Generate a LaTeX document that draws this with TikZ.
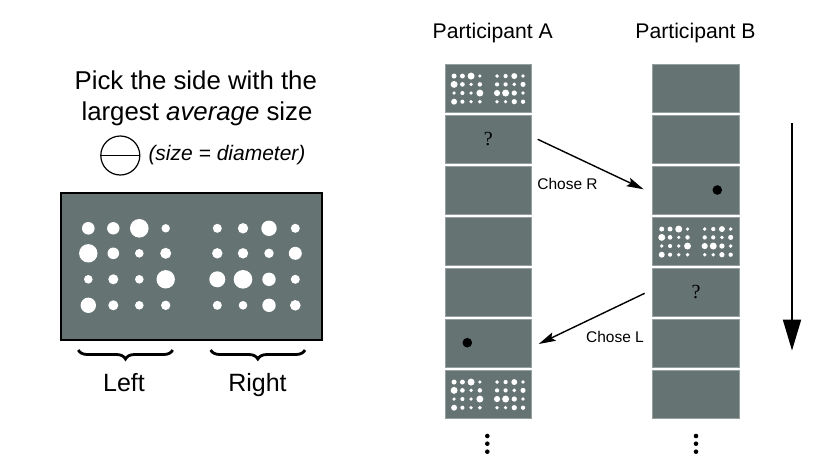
\documentclass[tikz,border=0pt]{standalone}
\usepackage{fontspec}
\setmainfont{Liberation Sans}
\newfontfamily\qfont{Liberation Serif}
\usetikzlibrary{arrows.meta,decorations.pathreplacing}
\definecolor{panelgray}{RGB}{101,115,115}
\definecolor{paneledge}{RGB}{150,160,160}
\newcommand\dotgrid[4]{%
  \foreach \cx/\cy/\cr in {
    27.3/35.3/6.3, 52.3/35.3/6.2, 78.3/35.3/9.3, 104.7/35.3/4.2, 156.3/35.3/4.5, 182/35.3/5.2, 208/35.3/7.7, 234.3/35.3/4.5,
    27.3/60.3/9.2, 52.3/60.3/5.8, 78.3/60.3/4.3, 104.7/60.3/5.5, 156.3/60.3/5.2, 182/60.3/5.2, 208/60.3/4.7, 234.3/60.3/6.5,
    27.3/86.3/4.3, 52.3/86.3/5.0, 78.3/86.3/4.3, 104.7/86.3/9.2, 156.3/86.3/8.0, 182/86.3/9.3, 208/86.3/6.7, 234.3/86.3/4.5,
    27.3/112.3/7.7, 52.3/112.3/5.0, 78.3/112.3/4.3, 104.7/112.3/4.7, 156.3/112.3/4.5, 182/112.3/4.3, 208/112.3/6.7, 234.3/112.3/5.3}
  {\fill[white] ({#1+#3*\cx},{#2+#3*\cy}) circle[radius={#3*\cr+#4}];}}
\begin{document}
\begin{tikzpicture}[x=1pt,y=-1pt,
  panel/.style={draw=paneledge, line width=0.8pt, fill=panelgray, minimum width=86.7pt, minimum height=48pt, inner sep=0pt, outer sep=0pt},
  bigpanel/.style={draw=black, line width=1.2pt, fill=panelgray, minimum width=261pt, minimum height=147pt, inner sep=0pt, outer sep=0pt},
  titletext/.style={font=\fontsize{25.8}{30}\selectfont, anchor=base, inner sep=0pt},
  headtext/.style={font=\fontsize{21.2}{25}\selectfont, anchor=base, inner sep=0pt},
  sidetext/.style={font=\fontsize{25}{29}\selectfont, anchor=base, inner sep=0pt},
  chosetext/.style={font=\fontsize{15.5}{18}\selectfont, inner sep=0pt},
  qmark/.style={font=\qfont\fontsize{20}{22}\selectfont, inner sep=0pt},
  diagarrow/.style={line width=1.4pt, -{Stealth[length=17pt,width=9pt,inset=3pt]}},
  bracestyle/.style={line width=2.8pt, decorate, decoration={brace, mirror, amplitude=9pt}}
]
\useasboundingbox (0,0) rectangle (830,467);

% left: instructions
\node[titletext] (title1) at (195.8,89.5) {Pick the side with the};
\node[titletext] (title2) at (197,120.5) {largest \textit{average} size};
\draw[line width=1.2pt] (120.3,155.5) circle[radius=19.5];
\draw[line width=1.2pt] (100.8,155.5) -- (139.8,155.5);
\node[anchor=west, inner sep=0pt, font=\itshape\fontsize{21}{24}\selectfont] (sizelabel) at (148.3,155.5) {(size = diameter)};

% big panel
\node[bigpanel] (big) at (191.5,266.5) {};
\begin{scope}[shift={(big.north west)}]
  \dotgrid{0}{0}{1}{0}
\end{scope}

% braces
\coordinate (lb1) at (78.3,350);
\coordinate (lb2) at (172.7,350);
\coordinate (rb1) at (210.7,350);
\coordinate (rb2) at (305,350);
\draw[bracestyle] (lb1) -- (lb2);
\draw[bracestyle] (rb1) -- (rb2);
\node[sidetext] (leftlabel) at (124,391.7) {Left};
\node[sidetext] (rightlabel) at (257.5,391.7) {Right};

% participants
\node[headtext] (headA) at (492.8,38.3) {Participant A};
\node[headtext] (headB) at (695.5,38.3) {Participant B};

\foreach \i/\y in {1/88.3, 2/139.3, 3/190.3, 4/241.3, 5/292.3, 6/343.3, 7/394.3} {
  \node[panel] (A\i) at (488.35,\y) {};
  \node[panel] (B\i) at (696,\y) {};
}
\begin{scope}[shift={(A1.north west)}] \dotgrid{0}{0}{0.333}{0.4} \end{scope}
\begin{scope}[shift={(A7.north west)}] \dotgrid{0}{0}{0.333}{0.4} \end{scope}
\begin{scope}[shift={(B4.north west)}] \dotgrid{0}{0}{0.333}{0.4} \end{scope}

\node[qmark] (qA) at (A2) {?};
\node[qmark] (qB) at (B5) {?};
\fill (717.3,190) circle[radius=4.8];
\fill (467.3,342.7) circle[radius=4.8];

% arrows
\draw[diagarrow] ([xshift=6pt]A2.east) -- ([xshift=-9pt,yshift=1pt]B3.west);
\draw[diagarrow] ([xshift=-8pt,yshift=-1pt]B5.west) -- ([xshift=7pt,yshift=-0.7pt]A6.east);
\node[chosetext] (choseR) at (567.5,184) {Chose R};
\node[chosetext] (choseL) at (615,336.7) {Chose L};

% time arrow
\coordinate (tstart) at (792,123.3);
\coordinate (tend) at (792,350.7);
\draw[line width=2.7pt, -{Triangle[length=31pt,width=17.7pt]}] (tstart) -- (tend);

% continuation dots
\foreach \yy in {436,443.7,451.7} {
  \fill (487.3,\yy) circle[radius=2.3];
  \fill (696,\yy) circle[radius=2.3];
}
\end{tikzpicture}
\end{document}
